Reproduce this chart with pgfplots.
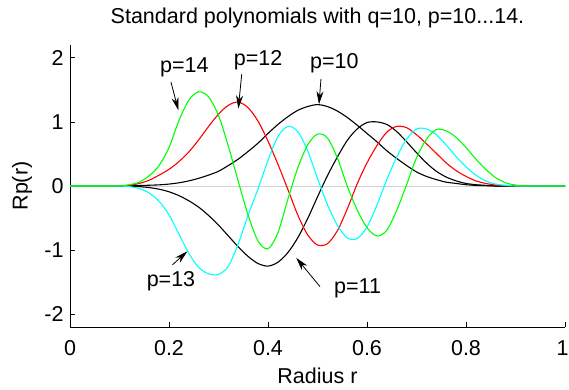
\documentclass[border=0pt]{standalone}
\usepackage{fontspec}
\setmainfont{Liberation Sans}
\usepackage{pgfplots}
\usepackage{pgfplotstable}
\pgfplotsset{compat=1.18}
\usetikzlibrary{arrows.meta}
\definecolor{mgreen}{RGB}{0,255,0}
\definecolor{mcyan}{RGB}{0,255,255}
\definecolor{mred}{RGB}{255,0,0}
\pgfplotstableread{
r     p10    p11    p12    p13    p14
0     0      0      0      0      0
0.08  0      0      0      0      0
0.10  0      0      0      0      0.003
0.12  0.003 -0.002  0.01  -0.01   0.02
0.14  0.007 -0.01   0.04  -0.04   0.06
0.16  0.012 -0.025  0.09  -0.11   0.16
0.18  0.018 -0.05   0.17  -0.24   0.32
0.20  0.03  -0.09   0.26  -0.45   0.60
0.22  0.05  -0.15   0.38  -0.75   1.02
0.24  0.08  -0.23   0.53  -1.05   1.34
0.26  0.12  -0.33   0.72  -1.27   1.47
0.28  0.17  -0.46   0.93  -1.37   1.39
0.30  0.23  -0.61   1.12  -1.38   1.10
0.32  0.32  -0.78   1.26  -1.25   0.62
0.34  0.42  -0.95   1.31  -0.90   0.07
0.36  0.54  -1.10   1.22  -0.45  -0.46
0.38  0.67  -1.21   1.01  -0.04  -0.86
0.40  0.82  -1.25   0.70   0.40  -0.98
0.42  0.96  -1.19   0.34   0.77  -0.73
0.44  1.08  -1.04  -0.05   0.93  -0.21
0.46  1.18  -0.81  -0.45   0.85   0.28
0.48  1.24  -0.51  -0.76   0.55   0.64
0.50  1.27  -0.17  -0.92   0.12   0.81
0.52  1.24   0.16  -0.90  -0.29   0.75
0.54  1.17   0.45  -0.70  -0.61   0.44
0.56  1.07   0.71  -0.36  -0.81   0.00
0.58  0.95   0.89   0.03  -0.82  -0.37
0.60  0.82   0.99   0.36  -0.64  -0.65
0.62  0.69   1.00   0.63  -0.30  -0.78
0.64  0.55   0.96   0.84   0.10  -0.69
0.66  0.43   0.85   0.93   0.45  -0.38
0.68  0.32   0.69   0.91   0.73   0.02
0.70  0.22   0.52   0.80   0.89   0.44
0.72  0.15   0.36   0.66   0.89   0.73
0.74  0.10   0.23   0.51   0.80   0.88
0.76  0.06   0.14   0.36   0.64   0.86
0.78  0.04   0.08   0.24   0.46   0.76
0.80  0.02   0.04   0.15   0.30   0.60
0.82  0.01   0.02   0.08   0.17   0.42
0.84  0.005  0.01   0.04   0.08   0.26
0.86  0      0      0.015  0.03   0.13
0.88  0      0      0.005  0.01   0.05
0.90  0      0      0      0      0.015
0.92  0      0      0      0      0
1.00  0      0      0      0      0
}\curves
\begin{document}
\begin{tikzpicture}[x=1pt,y=1pt]
\path[use as bounding box] (-70,-63) rectangle (499,327);
\begin{axis}[
  at={(0,0)}, anchor=south west,
  scale only axis, width=495pt, height=282pt,
  xmin=0, xmax=1, ymin=-2.2, ymax=2.2,
  axis x line*=bottom, axis y line*=left,
  axis line style={black, line width=0.8pt},
  tick align=inside, major tick length=5pt,
  tick style={black, line width=0.8pt},
  xtick={0,0.2,0.4,0.6,0.8,1}, ytick={-2,-1,0,1,2},
  xticklabels={0,0.2,0.4,0.6,0.8,\hspace*{-5pt}1},
  /pgf/number format/assume math mode=true,
  ticklabel style={font=\fontsize{21.5}{25}\selectfont},
  xticklabel style={anchor=base, yshift=-28pt},
  yticklabel style={anchor=east, xshift=-3pt},
  title={Standard polynomials with q=10, p=10...14.},
  title style={font=\fontsize{21.5}{25}\selectfont, at={(axis description cs:0.5,1)}, anchor=base, yshift=15pt},
  xlabel={Radius r},
  xlabel style={font=\fontsize{21.5}{25}\selectfont, at={(axis description cs:0.5,0)}, anchor=base, yshift=-56pt},
  ylabel={Rp(r)},
  ylabel style={font=\fontsize{21.5}{25}\selectfont, at={(axis description cs:0,0.5)}, anchor=center, yshift=48pt},
  every axis plot/.append style={line width=1.1pt, smooth, tension=0.5},
]
\addplot[gray!35, line width=0.6pt, sharp plot] coordinates {(0,0) (1,0)};
\addplot[black] table[x=r, y=p10] {\curves};
\addplot[black] table[x=r, y=p11] {\curves};
\addplot[mred] table[x=r, y=p12] {\curves};
\addplot[mcyan] table[x=r, y=p13] {\curves};
\addplot[mgreen] table[x=r, y=p14] {\curves};
\begin{scope}[font=\fontsize{21.5}{25}\selectfont]
\draw[-{Stealth[length=13pt,width=7pt,inset=4pt]}, line width=0.8pt] (axis cs:0.204,1.62) -- (axis cs:0.219,1.18);
\node at (axis cs:0.231,1.85) {p=14};
\draw[-{Stealth[length=13pt,width=7pt,inset=4pt]}, line width=0.8pt] (axis cs:0.347,1.75) -- (axis cs:0.340,1.21);
\node at (axis cs:0.380,1.96) {p=12};
\draw[-{Stealth[length=13pt,width=7pt,inset=4pt]}, line width=0.8pt] (axis cs:0.507,1.67) -- (axis cs:0.503,1.275);
\node at (axis cs:0.534,1.92) {p=10};
\draw[-{Stealth[length=13pt,width=7pt,inset=4pt]}, line width=0.8pt] (axis cs:0.207,-1.23) -- (axis cs:0.237,-1.02);
\node at (axis cs:0.204,-1.49) {p=13};
\draw[-{Stealth[length=13pt,width=7pt,inset=4pt]}, line width=0.8pt] (axis cs:0.505,-1.57) -- (axis cs:0.457,-1.12);
\node at (axis cs:0.581,-1.60) {p=11};
\end{scope}
\end{axis}
\end{tikzpicture}
\end{document}
